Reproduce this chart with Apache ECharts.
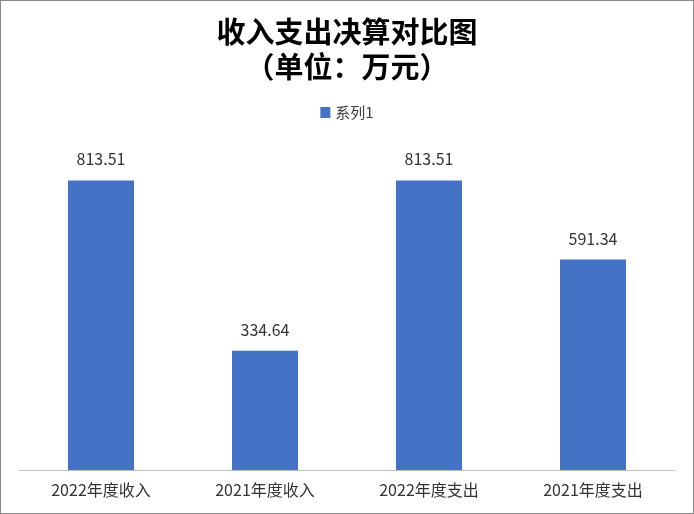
<!DOCTYPE html>
<html>
<head>
<meta charset="utf-8">
<script src="https://cdn.jsdelivr.net/npm/echarts@6/dist/echarts.min.js"></script>
<style>
html,body{margin:0;padding:0;background:#fff;}
#c{position:absolute;left:0;top:0;width:692px;height:512px;border:1px solid #898989;}
</style>
</head>
<body>
<div id="c"></div>
<script>
const categories = ['2022年度收入', '2021年度收入', '2022年度支出', '2021年度支出'];
const seriesName = '系列1';
const values = [813.51, 334.64, 813.51, 591.34];

const chart = echarts.init(document.getElementById('c'));
chart.setOption({
  animation: false,
  title: {
    text: '收入支出决算对比图\n（单位：万元）',
    left: 'center',
    top: 8,
    textStyle: {
      fontFamily: 'Noto Sans CJK SC',
      fontSize: 29,
      fontWeight: 'bold',
      color: '#000',
      lineHeight: 35
    }
  },
  legend: {
    data: [seriesName],
    top: 99,
    left: 'center',
    icon: 'rect',
    itemWidth: 10,
    itemHeight: 11,
    itemGap: 5,
    textStyle: { fontFamily: 'Noto Sans CJK SC', fontSize: 15, color: '#404040' }
  },
  grid: { left: 18, right: 18, top: 113, bottom: 43, containLabel: false },
  xAxis: {
    type: 'category',
    data: categories,
    axisLine: { lineStyle: { color: '#bfbfbf', width: 1 } },
    axisTick: { show: false },
    axisLabel: { fontFamily: 'Noto Sans CJK SC', fontSize: 16, color: '#333', margin: 12 }
  },
  yAxis: {
    type: 'value',
    min: 0,
    max: 1000,
    show: false,
    splitLine: { show: false }
  },
  series: [{
    name: seriesName,
    type: 'bar',
    data: values,
    barWidth: 66,
    itemStyle: { color: '#4472C4' },
    label: {
      show: true,
      position: 'top',
      distance: 13,
      fontFamily: 'Noto Sans CJK SC',
      fontSize: 16,
      color: '#333'
    }
  }]
});
</script>
</body>
</html>
